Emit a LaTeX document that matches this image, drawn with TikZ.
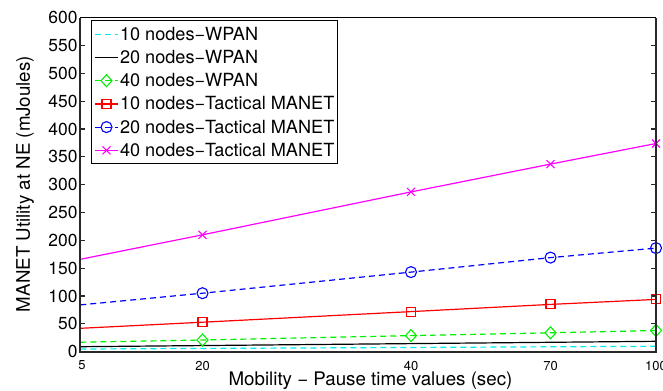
\documentclass[tikz,border=0pt]{standalone}
\usepackage{fontspec}
\setmainfont{TeX Gyre Heros}
\usetikzlibrary{shapes.geometric,shapes.misc}
\definecolor{axgray}{RGB}{40,40,40}
\definecolor{mcyan}{RGB}{0,235,235}
\definecolor{mgreen}{RGB}{0,240,0}
\definecolor{mmag}{RGB}{255,0,255}
\definecolor{mred}{RGB}{255,0,0}
\definecolor{mblue}{RGB}{0,0,255}
\begin{document}
\begin{tikzpicture}[x=1bp,y=-1bp,
  every node/.style={inner sep=0pt,outer sep=0pt},
  ytl/.style={anchor=east,font=\fontsize{17.5}{20}\selectfont},
  xtl/.style={font=\fontsize{13}{15}\selectfont},
  lab/.style={font=\fontsize{18.8}{21}\selectfont},
  legtext/.style={anchor=base west,font=\fontsize{18.2}{21}\selectfont},
  axisline/.style={draw=axgray,line width=1.8bp},
  tickline/.style={draw=axgray,line width=1.2bp},
  dashpat/.style={dash pattern=on 6bp off 4bp},
  cyanser/.style={draw=mcyan,line width=1.2bp,dashpat},
  blackser/.style={draw=black,line width=1.2bp},
  greenser/.style={draw=mgreen,line width=1.2bp,dashpat},
  redser/.style={draw=mred,line width=1.2bp},
  blueser/.style={draw=mblue,line width=1.2bp,dashpat},
  magser/.style={draw=mmag,line width=1.2bp},
  mkcirc/.style={circle,draw=mblue,line width=1.1bp,minimum size=11bp},
  mksq/.style={rectangle,draw=mred,line width=1.1bp,minimum size=9bp},
  mkdia/.style={diamond,draw=mgreen,line width=1.1bp,minimum width=11bp,minimum height=12bp},
  mkx/.style={cross out,draw=mmag,line width=1.1bp,minimum size=8bp}
]
\useasboundingbox (0,0) rectangle (663,390);

% frame corners
\coordinate (tl) at (80.3,17.7);
\coordinate (bl) at (80.3,351.7);
\coordinate (br) at (656,351.7);
\coordinate (tr) at (656,17.7);

% y ticks and labels
\foreach \v in {0,50,...,600}{
  \pgfmathsetmacro{\yy}{351.7-0.55667*\v}
  \draw[tickline] (80.3,\yy) -- ++(5,0);
  \draw[tickline] (656,\yy) -- ++(-5,0);
  \node[ytl] (yl\v) at (77.5,\yy) {\v};
}

% x tick labels
\node[xtl] (xl5) at (82,365.5) {5};
\node[xtl] (xl20) at (202.5,365.5) {20};
\node[xtl] (xl40) at (411,365.5) {40};
\node[xtl] (xl70) at (550.5,365.5) {70};
\node[xtl] (xl100) at (656,365.5) {100};

% axis titles
\node[lab,anchor=base] (xlabel) at (370.5,385.5) {Mobility − Pause time values (sec)};
\node[lab,rotate=90] (ylabel) at (25,184) {MANET Utility at NE (mJoules)};

% data points
\coordinate (c1) at (80.3,349);   \coordinate (c5) at (656,346.3);
\coordinate (k1) at (80.3,346.7); \coordinate (k5) at (656,341.3);
\coordinate (g1) at (80.3,342.2); \coordinate (g2) at (202.5,340.0); \coordinate (g3) at (411,335.6); \coordinate (g4) at (550.5,332.8); \coordinate (g5) at (656,330.5);
\coordinate (r1) at (80.3,328.3); \coordinate (r2) at (202.5,322.2); \coordinate (r3) at (411,311.6); \coordinate (r4) at (550.5,304.4); \coordinate (r5) at (656,299.4);
\coordinate (b1) at (80.3,304.9); \coordinate (b2) at (202.5,293.2); \coordinate (b3) at (411,272.1); \coordinate (b4) at (550.5,257.6); \coordinate (b5) at (656,248.1);
\coordinate (m1) at (80.3,259.3); \coordinate (m2) at (202.5,234.8); \coordinate (m3) at (411,191.9); \coordinate (m4) at (550.5,164.1); \coordinate (m5) at (656,143.5);

\draw[cyanser] (c1) -- (c5);
\draw[blackser] (k1) -- (k5);
\draw[greenser] (g1) -- (g2) -- (g3) -- (g4) -- (g5);
\draw[redser] (r1) -- (r2) -- (r3) -- (r4) -- (r5);
\draw[blueser] (b1) -- (b2) -- (b3) -- (b4) -- (b5);
\draw[magser] (m1) -- (m2) -- (m3) -- (m4) -- (m5);

\foreach \i in {2,3,4,5}{
  \node[mkdia] (gm\i) at (g\i) {};
  \node[mksq] (rm\i) at (r\i) {};
  \node[mkcirc] (bm\i) at (b\i) {};
  \node[mkx] (mm\i) at (m\i) {};
}

% axes
\draw[axisline] (tl) -- (bl) -- (br) -- (tr);
\draw[draw=black,line width=0.9bp] (tl) -- (tr);

% legend
\node[draw=black,fill=white,line width=0.9bp,minimum width=246.7bp,minimum height=143.3bp,anchor=north west] (legend) at (91,20) {};
\foreach \j/\nm/\txt in {0/cy/10 nodes−WPAN,1/bk/20 nodes−WPAN,2/gr/40 nodes−WPAN,3/rd/10 nodes−Tactical MANET,4/bl/20 nodes−Tactical MANET,5/mg/40 nodes−Tactical MANET}{
  \pgfmathsetmacro{\ly}{34.3+23.2*\j}
  \coordinate (ls\nm) at (95,\ly);
  \coordinate (le\nm) at (118,\ly);
  \coordinate (lm\nm) at (106.5,\ly);
  \node[legtext] (lt\nm) at (120,\ly+6) {\txt};
}
\draw[cyanser] (lscy) -- (lecy);
\draw[blackser] (lsbk) -- (lebk);
\draw[greenser] (lsgr) -- (legr);
\node[mkdia] (lmkgr) at (lmgr) {};
\draw[redser] (lsrd) -- (lerd);
\node[mksq] (lmkrd) at (lmrd) {};
\draw[blueser] (lsbl) -- (lebl);
\node[mkcirc] (lmkbl) at (lmbl) {};
\draw[magser] (lsmg) -- (lemg);
\node[mkx] (lmkmg) at (lmmg) {};
\end{tikzpicture}
\end{document}
